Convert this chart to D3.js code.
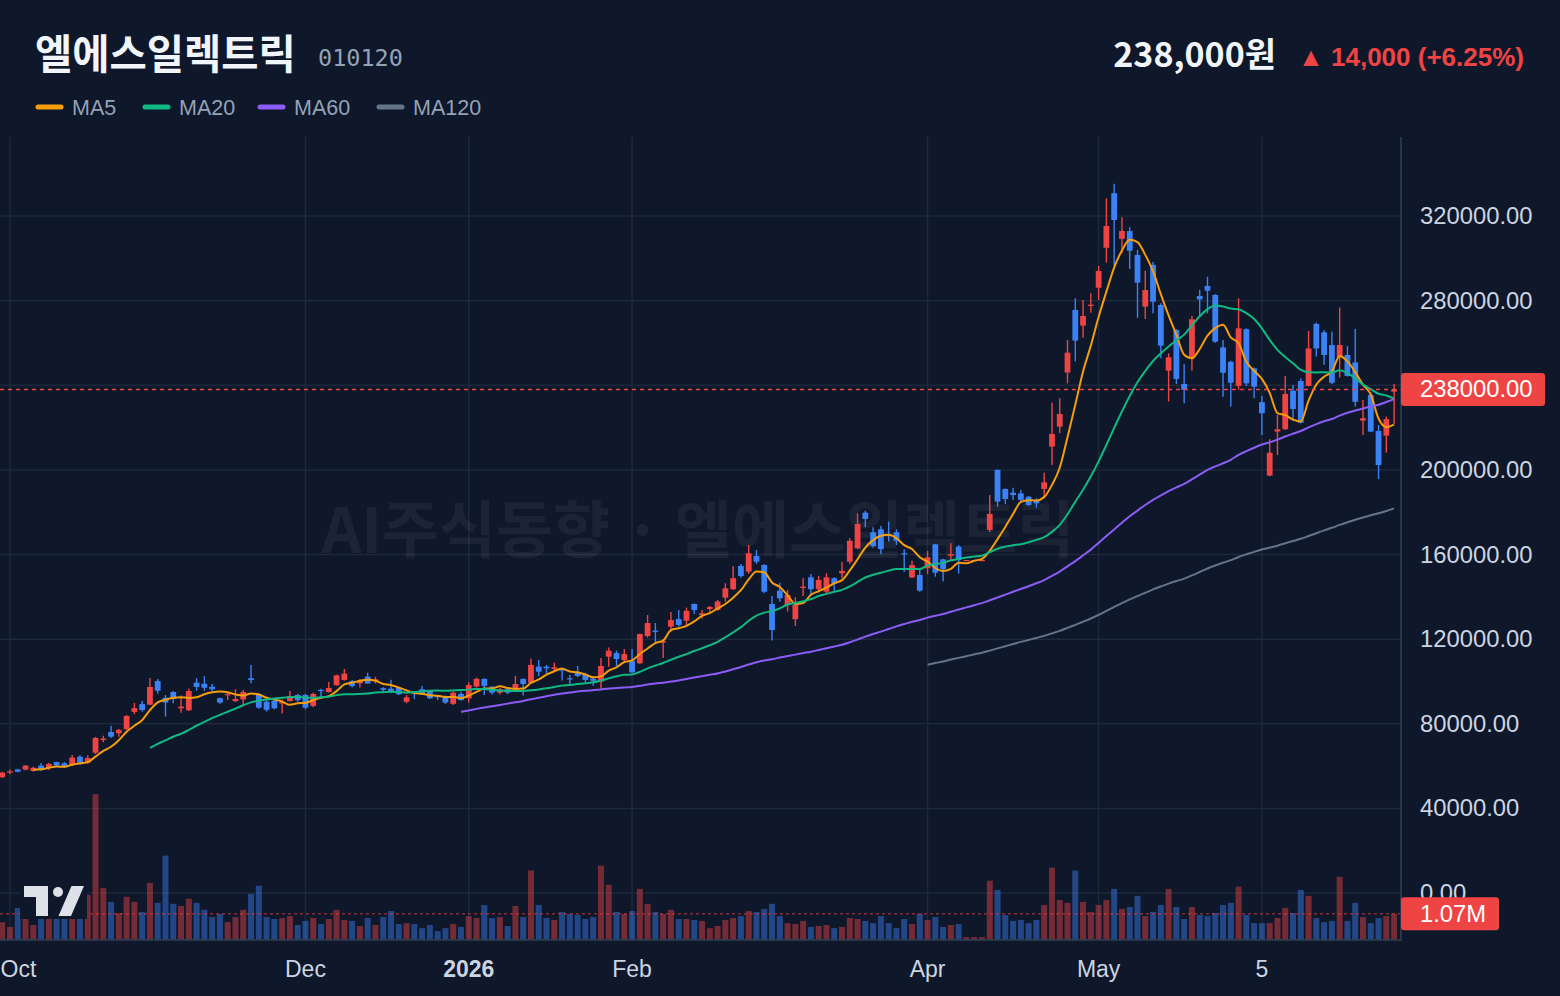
<!DOCTYPE html>
<html>
<head>
<meta charset="utf-8">
<script src="https://cdn.jsdelivr.net/npm/d3@7/dist/d3.min.js"></script>
<style>
  body { margin: 0; background: #0f172a; }
  svg { display: block; }
</style>
</head>
<body>
<svg id="chart" width="1560" height="996"></svg>
<script>
// daily candles (won), oldest first
const opens = [54700,56900,58400,58300,57700,60200,59100,61900,61300,60500,64400,61600,66300,72300,76100,75500,77400,85600,89300,89000,
  100200,92300,95000,87300,86400,99400,98900,97500,92100,93500,90700,91500,101500,94100,90400,90900,89600,90700,93600,93600,
  88400,96000,95000,98200,100700,100200,99100,102300,100300,96800,96600,97200,90400,95100,96300,95600,93100,92800,89400,94100,
  92000,97600,101200,97500,94700,96400,96800,101200,99400,107000,107000,105900,105900,101500,104600,103500,101300,99900,111700,113400,
  110100,109700,108600,121500,124000,118300,125900,129500,128700,136600,131300,134200,133800,139600,143600,154600,151900,159300,155000,136600,
  142900,136100,129400,144200,149200,143600,142400,148800,151100,156600,162900,179800,170500,171900,169500,170500,160600,149200,150300,153500,
  164800,157700,159400,163700,157400,157400,157400,171600,200000,191000,189200,188900,187300,185500,191000,211000,220400,246000,275600,268200,
  277500,286100,305000,330800,309200,312900,301600,277200,296900,277900,246900,266100,240600,253200,282200,286900,282700,257900,251100,239700,
  266500,248000,232000,197300,218100,219200,237400,242000,239700,269000,265000,259000,253200,254300,250800,223300,235400,218400,216200,237000];
const highs = [57300,58400,58700,60500,59700,61400,61600,62000,61900,65200,65100,65100,73800,74300,79000,77500,84100,89800,90800,101600,
  101200,93600,95500,93400,96700,101600,102500,98800,92300,95100,96300,96000,107800,94500,91200,91500,91500,95500,94100,94100,
  94700,96500,99700,103200,105900,100700,101000,104100,102200,97200,100800,97500,93600,95500,97900,96000,93600,93300,95100,95100,
  99600,101800,101500,97800,96900,96900,102600,101500,110800,110100,107800,108900,106400,103000,107300,104100,102200,111100,116100,114500,
  115300,115300,122700,131400,127600,119900,132800,133800,134900,136800,133800,135700,138500,146400,154600,155500,164500,162100,155400,140400,
  146700,143200,139800,148800,150800,149800,151100,149200,156400,167700,179500,180700,172900,173500,175500,171900,162500,157100,153000,161700,
  165000,158000,165300,164500,157400,157400,157400,188100,200200,191200,191500,190500,187600,186600,198700,231800,233800,261400,281100,280300,
  283500,296400,328400,335200,319400,314700,304000,294100,298300,278800,255100,266500,250100,272700,285000,291300,283000,261400,251600,281100,
  266900,248400,234900,214500,226000,244400,240100,243300,265700,269600,266100,265300,276700,258600,266600,233000,236500,221200,225200,240600];
const lows = [54500,56200,57100,58000,57300,57700,58100,60100,59100,60000,60600,61100,65700,71200,73300,73900,77100,84500,85700,88900,
  94200,83400,89700,85200,86000,95600,95600,95500,89500,91200,90300,88700,99100,87100,85800,86800,84800,90500,90400,86800,
  87800,92500,94800,98000,100400,97100,97100,99000,99000,94500,94500,93600,89700,91700,93600,91700,91200,89400,88900,90900,
  90000,97100,93600,93800,93800,94000,96300,93300,99100,102600,103100,104600,100500,98300,102000,99600,98000,96400,107000,107300,
  109300,103900,108200,120700,118300,111100,123500,125900,126200,131900,129700,132500,133500,137700,143200,149000,150800,155500,141700,119300,
  137700,133000,126200,140400,140900,142000,141700,142900,148800,155500,162500,172900,163200,160100,166100,164500,151900,148800,142400,150800,
  149500,147200,157400,151000,157400,157400,157400,170600,182600,183900,185800,185000,183000,182100,187100,202300,217300,240900,251200,262500,
  274300,280300,298000,296400,302400,294900,271900,271300,274000,252800,232300,240600,231500,246900,272400,274000,260100,234600,229900,237800,
  239700,233800,216500,197000,207000,219000,223300,222000,239500,253500,249600,240600,243600,244100,229900,216500,217800,195700,208100,221700];
const closes = [56900,57500,57300,60200,59200,58100,61000,60300,59700,64000,61600,63800,73300,73000,73900,77100,83700,87400,86500,97400,
  95600,90000,91700,88100,95500,97400,97000,96300,90000,94000,91700,95000,100700,87600,86600,87300,90200,93100,91100,87600,
  94100,95500,96900,102900,103700,97800,100300,99000,101000,96000,95500,93900,92500,94500,94400,92000,92500,90000,94700,91200,
  98300,101200,97900,94700,96300,94700,98800,98800,107800,104600,106200,106700,105100,101000,102600,100700,100300,107300,114500,110600,
  113000,104300,122400,127600,123400,119000,129000,126700,133400,133800,132200,135200,137800,144000,148800,149800,160600,156600,142400,124300,
  139300,140900,136100,144800,143600,148000,149200,146400,152200,166500,174400,176800,164000,162500,168900,166500,160100,155000,142900,158700,
  151400,153000,160100,157400,157400,157400,157400,179200,185000,186200,188100,185800,183400,184200,194100,217000,226400,255400,261100,272700,
  278100,294000,315300,318100,312900,303600,288500,285000,279500,258700,253200,243000,237800,271200,280600,284700,260600,245900,241200,266900,
  240900,239300,226800,208100,219200,235900,228800,222300,257400,257400,254300,241200,259000,244400,232200,224400,218100,202300,224000,238000];
// volume in millions of shares
const volumes = [0.72,0.52,1.31,1.27,0.60,1.00,0.90,1.10,0.90,1.30,1.50,1.85,6.03,2.14,1.56,1.09,1.77,1.56,1.14,2.35,
  1.52,3.48,1.48,1.39,1.69,1.52,1.23,0.93,1.06,0.72,0.93,1.23,1.89,2.23,0.93,0.85,0.89,0.97,0.60,0.77,
  0.89,0.64,0.85,1.23,0.81,0.77,0.56,0.89,0.60,0.93,1.18,0.64,0.68,0.64,0.47,0.60,0.35,0.47,0.64,0.52,
  0.97,0.89,1.43,0.89,0.93,0.56,1.39,0.93,2.86,1.43,0.89,0.81,1.14,1.06,1.02,0.85,0.93,3.06,2.27,1.14,
  1.06,1.18,2.10,1.48,1.14,1.06,1.23,0.85,0.85,0.81,0.77,0.47,0.56,0.81,0.89,0.97,1.18,1.14,1.27,1.48,
  0.97,0.68,0.64,0.77,0.52,0.56,0.60,0.47,0.52,0.89,0.85,0.77,0.68,0.97,0.68,0.47,0.85,0.64,1.06,0.81,
  0.93,0.52,0.60,0.64,0.10,0.10,0.10,2.44,2.06,1.02,0.77,0.81,0.68,0.81,1.43,2.98,1.64,1.52,2.86,1.56,
  1.14,1.43,1.64,2.10,1.27,1.35,1.81,0.97,1.14,1.43,2.10,1.35,0.85,1.35,1.02,0.97,1.10,1.43,1.52,2.19,
  1.02,0.68,0.68,0.68,0.89,1.31,1.10,2.06,1.81,0.89,0.72,0.77,2.60,0.77,1.52,0.93,0.68,0.89,0.97,1.07];

const priceTicks = [0,40000,80000,120000,160000,200000,240000,280000,320000];
const tickIndex = [1,39,60,81,119,141,162];
const tickLabels = ["Oct","Dec","2026","Feb","Apr","May","5"];
const maPeriods = [5,20,60,120];
const maColors = ["#f59e0b","#10b981","#8b5cf6","#64748b"];
const lastPrice = 238000;
const lastVolume = 1.07;

const W = 1560, H = 996;
const plot = {left: 0, right: 1401, top: 137, bottom: 940};
const up = "#ef4444", down = "#3b82f6";
const axisFont = "'Liberation Sans', Arial, sans-serif";
const krFont = "'Noto Sans CJK KR', 'Noto Sans', sans-serif";
const axisSize = 23.8;

const svg = d3.select("#chart");
svg.append("rect").attr("width", W).attr("height", H).attr("fill", "#0f172a");

const x = d3.scaleLinear().domain([0, closes.length - 1]).range([2.2, 1394.1]);
const y = d3.scaleLinear().domain([0, 320000]).range([893, 216]);
const yv = d3.scaleLinear().domain([0, lastVolume]).range([939.5, 913.7]);

svg.append("clipPath").attr("id", "clip")
  .append("rect")
  .attr("x", plot.left).attr("y", plot.top)
  .attr("width", plot.right - plot.left).attr("height", plot.bottom - plot.top);

// grid
const grid = svg.append("g").attr("stroke", "#1e293b").attr("stroke-width", 1.5);
grid.selectAll("line.h")
  .data(priceTicks)
  .enter()
  .append("line")
  .attr("x1", plot.left).attr("x2", plot.right)
  .attr("y1", d => y(d)).attr("y2", d => y(d));
grid.selectAll("line.v")
  .data(tickIndex)
  .enter()
  .append("line")
  .attr("x1", d => x(d)).attr("x2", d => x(d))
  .attr("y1", plot.top).attr("y2", plot.bottom);

// watermark
svg.append("text")
  .attr("x", 698).attr("y", 553)
  .attr("text-anchor", "middle")
  .attr("font-family", krFont).attr("font-weight", 700).attr("font-size", 62)
  .attr("fill", "#ffffff").attr("fill-opacity", 0.055)
  .text("AI주식동향 · 엘에스일렉트릭");

const g = svg.append("g").attr("clip-path", "url(#clip)");
const idx = d3.range(closes.length);
const isUp = i => closes[i] >= opens[i];

// volume
g.append("g")
  .selectAll("rect")
  .data(idx)
  .enter()
  .append("rect")
  .attr("x", i => x(i) - 3)
  .attr("width", 6)
  .attr("y", i => yv(volumes[i]))
  .attr("height", i => yv(0) - yv(volumes[i]))
  .attr("fill", i => isUp(i) ? up : down)
  .attr("fill-opacity", 0.45);

g.append("line")
  .attr("x1", plot.left).attr("x2", plot.right)
  .attr("y1", yv(lastVolume)).attr("y2", yv(lastVolume))
  .attr("stroke", up).attr("stroke-opacity", 0.5)
  .attr("stroke-width", 1.5).attr("stroke-dasharray", "3,3");

// candles
const candle = g.append("g")
  .selectAll("g")
  .data(idx)
  .enter()
  .append("g")
  .attr("fill", i => isUp(i) ? up : down)
  .attr("stroke", i => isUp(i) ? up : down);

candle.append("line")
  .attr("x1", i => x(i)).attr("x2", i => x(i))
  .attr("y1", i => y(highs[i])).attr("y2", i => y(lows[i]))
  .attr("stroke-width", 1.4);

candle.append("rect")
  .attr("stroke", "none")
  .attr("x", i => x(i) - 2.9)
  .attr("width", 5.8)
  .attr("y", i => y(Math.max(opens[i], closes[i])))
  .attr("height", i => Math.max(1.2, Math.abs(y(opens[i]) - y(closes[i]))));

// moving averages
maPeriods.forEach((n, k) => {
  const ma = idx.map(i => i < n - 1 ? null : d3.mean(closes.slice(i - n + 1, i + 1)));
  g.append("path")
    .datum(idx)
    .attr("fill", "none")
    .attr("stroke", maColors[k])
    .attr("stroke-width", 2)
    .attr("d", d3.line()
      .defined(i => ma[i] !== null)
      .x(i => x(i))
      .y(i => y(ma[i]))
      .curve(d3.curveMonotoneX));
});

// last price line
g.append("line")
  .attr("x1", plot.left).attr("x2", plot.right)
  .attr("y1", y(lastPrice)).attr("y2", y(lastPrice))
  .attr("stroke", up).attr("stroke-width", 1.5).attr("stroke-dasharray", "4,4");

// plot border
svg.append("path")
  .attr("d", `M${plot.left},${plot.bottom}H${plot.right}V${plot.top}`)
  .attr("fill", "none").attr("stroke", "#334155").attr("stroke-width", 1.5);

// price axis, labels hidden under the last-price tag are skipped
svg.append("g")
  .selectAll("text")
  .data(priceTicks.filter(d => Math.abs(y(d) - y(lastPrice)) > 20))
  .enter()
  .append("text")
  .attr("x", 1420).attr("y", d => y(d) + 8)
  .attr("font-family", axisFont).attr("font-size", axisSize)
  .attr("fill", "#cbd5e1")
  .text(d => d.toFixed(2));

// tags
function tag(yy, w, label) {
  svg.append("rect")
    .attr("x", plot.right).attr("y", yy - 16.5)
    .attr("width", w).attr("height", 33).attr("rx", 3)
    .attr("fill", up);
  svg.append("text")
    .attr("x", 1420).attr("y", yy + 8)
    .attr("font-family", axisFont).attr("font-size", axisSize)
    .attr("fill", "#ffffff")
    .text(label);
}
tag(y(lastPrice), 144, lastPrice.toFixed(2));
tag(yv(lastVolume), 98, lastVolume.toFixed(2) + "M");

// time axis
svg.append("g")
  .selectAll("text")
  .data(tickIndex)
  .enter()
  .append("text")
  .attr("y", 977)
  .attr("text-anchor", "middle")
  .attr("font-family", axisFont).attr("font-size", 23)
  .attr("font-weight", (d, i) => tickLabels[i] === "2026" ? 700 : 400)
  .attr("fill", "#cbd5e1")
  .text((d, i) => tickLabels[i])
  .attr("x", function(d) {
    const half = this.getComputedTextLength() / 2;
    return Math.max(x(d), half + 0.5);
  });

// tradingview logo
const logo = svg.append("g");
logo.append("rect").attr("x", 20).attr("y", 883).attr("width", 67).attr("height", 36).attr("fill", "#0f172a");
logo.append("path").attr("d", "M24,886H48V916H36V897H24Z").attr("fill", "#dde1e8");
logo.append("circle").attr("cx", 58).attr("cy", 892).attr("r", 5).attr("fill", "#dde1e8");
logo.append("path").attr("d", "M71.5,886H84L71,916H58.5Z").attr("fill", "#dde1e8");

// header
svg.append("text")
  .attr("x", 35).attr("y", 69)
  .attr("font-family", krFont).attr("font-weight", 700).attr("font-size", 40.5)
  .attr("fill", "#f1f5f9")
  .text("엘에스일렉트릭");
svg.append("text")
  .attr("x", 318).attr("y", 66)
  .attr("font-family", "'DejaVu Sans Mono', monospace").attr("font-size", 23.5)
  .attr("fill", "#94a3b8")
  .text("010120");

svg.append("text")
  .attr("x", 1276).attr("y", 67)
  .attr("text-anchor", "end")
  .attr("font-family", krFont).attr("font-weight", 700).attr("font-size", 34)
  .attr("fill", "#f1f5f9")
  .text("238,000원");
svg.append("text")
  .attr("x", 1524).attr("y", 66)
  .attr("text-anchor", "end")
  .attr("font-family", axisFont).attr("font-weight", 700).attr("font-size", 26)
  .attr("fill", up)
  .text("▲ 14,000 (+6.25%)");

// legend
const legendX = [36, 143, 258, 377];
const legend = svg.append("g")
  .selectAll("g")
  .data(maPeriods)
  .enter()
  .append("g")
  .attr("transform", (d, i) => `translate(${legendX[i]},107)`);
legend.append("line")
  .attr("x1", 2).attr("x2", 25)
  .attr("stroke", (d, i) => maColors[i])
  .attr("stroke-width", 5).attr("stroke-linecap", "round");
legend.append("text")
  .attr("x", 36).attr("y", 7.5)
  .attr("font-family", axisFont).attr("font-size", 21.5)
  .attr("fill", "#94a3b8")
  .text(d => "MA" + d);
</script>
</body>
</html>
